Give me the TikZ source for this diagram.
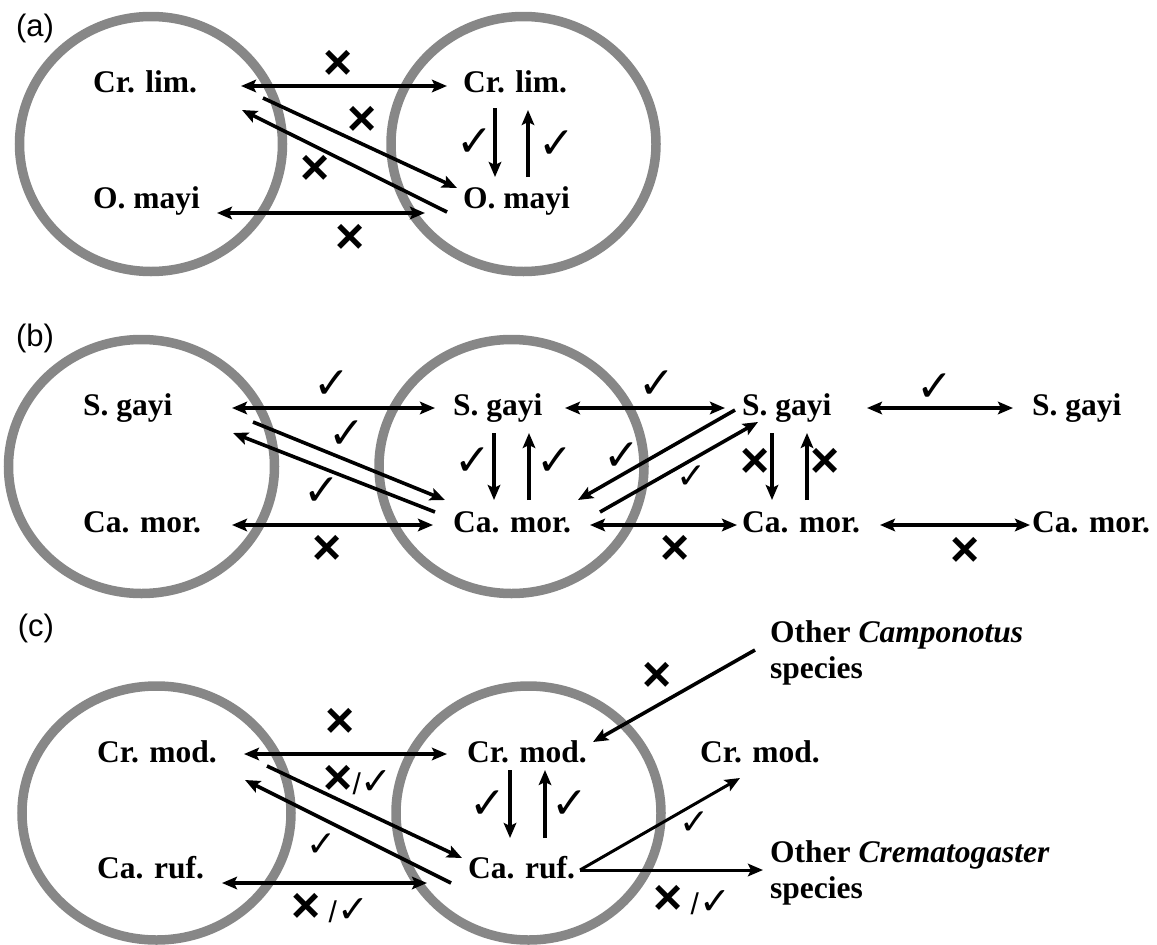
\documentclass[tikz,border=0pt]{standalone}
\usepackage{fontspec}
\setmainfont{Liberation Serif}
\newfontfamily\arialf{Liberation Sans}
\newfontfamily\dvf{DejaVu Sans}
\usetikzlibrary{arrows.meta,calc}
\definecolor{ringgray}{RGB}{135,135,135}
\tikzset{
  lab/.style={font=\bfseries\fontsize{31.5}{36}\selectfont, inner sep=0pt, anchor=base west},
  lab2/.style={font=\bfseries\fontsize{31.5}{36}\selectfont, inner sep=0pt, anchor=north west, align=left},
  pan/.style={font=\arialf\fontsize{31}{31}\selectfont, inner sep=0pt},
  nx/.style={font=\arialf\bfseries\fontsize{50}{50}\selectfont, inner sep=0pt},
  ck/.style={font=\dvf\fontsize{44}{44}\selectfont, inner sep=0pt},
  cks/.style={font=\dvf\fontsize{36}{36}\selectfont, inner sep=0pt},
  mix/.style={font=\arialf\fontsize{30}{30}\selectfont, inner sep=0pt},
  ring/.style={draw=ringgray, line width=9.5pt},
  tip/.tip={Stealth[length=15pt,width=12.5pt,inset=3pt]},
  bi/.style={line width=3.6pt, tip-tip},
  one/.style={line width=3.6pt, -tip},
  thin/.style={line width=3pt, -tip},
}
\newcommand{\xm}{{\arialf\bfseries\fontsize{50}{50}\selectfont ×}}
\newcommand{\cm}{{\dvf\fontsize{38}{38}\selectfont ✓}}
\begin{document}
\begin{tikzpicture}[x=1pt,y=-1pt]
\useasboundingbox (0,0) rectangle (1157,945);
% ---------- circles
\draw[ring] (151,144) ellipse [x radius=131.5pt, y radius=127.5pt];
\draw[ring] (523.5,144) ellipse [x radius=132.5pt, y radius=127.5pt];
\draw[ring] (141.5,466.5) ellipse [x radius=133pt, y radius=127pt];
\draw[ring] (511.5,466.5) ellipse [x radius=132.5pt, y radius=127pt];
\draw[ring] (156.5,813) ellipse [x radius=134.5pt, y radius=127pt];
\draw[ring] (528.5,813) ellipse [x radius=132.5pt, y radius=127pt];
% ---------- panel labels
\node[pan] (pa) at (35,28) {(a)};
\node[pan] (pb) at (35,338) {(b)};
\node[pan] (pc) at (36,628) {(c)};
% ---------- panel (a)
\node[lab] (aCL) at (93,92) {Cr. lim.};
\node[lab] (aCR) at (463,92) {Cr. lim.};
\node[lab] (aOL) at (93,208) {O. mayi};
\node[lab] (aOR) at (463,208) {O. mayi};
\draw[bi] ($(aCL.base west)+(148,-6)$) -- ($(aCR.base west)+(-16,-6)$);
\draw[one] ($(aCL.base west)+(170,6)$) -- ($(aOR.base west)+(-6,-20)$);
\draw[one] ($(aOR.base west)+(-16,4)$) -- ($(aCL.base west)+(149,18)$);
\draw[bi] ($(aOL.base west)+(124,5)$) -- ($(aOR.base west)+(-38,5)$);
\draw[one] ($(aCR.base west)+(32,16)$) -- ($(aOR.base west)+(32,-31)$);
\draw[one] ($(aOR.base west)+(65,-31)$) -- ($(aCR.base west)+(65,18)$);
\node[nx] (ax1) at (338,65) {×};
\node[nx] (ax2) at (362,121) {×};
\node[nx] (ax3) at (315,170) {×};
\node[nx] (ax4) at (350,239) {×};
\node[ck] (ac1) at (475,143) {✓};
\node[ck] (ac2) at (557,145) {✓};
% ---------- panel (b)
\node[lab] (bSL) at (83,415) {S. gayi};
\node[lab] (bCL) at (83,532) {Ca. mor.};
\node[lab] (bSM) at (453,415) {S. gayi};
\node[lab] (bCM) at (453,532) {Ca. mor.};
\node[lab] (bS3) at (742,415) {S. gayi};
\node[lab] (bC3) at (742,532) {Ca. mor.};
\node[lab] (bS4) at (1032,415) {S. gayi};
\node[lab] (bC4) at (1032,532) {Ca. mor.};
\draw[bi] ($(bSL.base west)+(149,-7)$) -- ($(bSM.base west)+(-18,-7)$);
\draw[one] ($(bSL.base west)+(170,7)$) -- ($(bCM.base west)+(-8,-32)$);
\draw[one] ($(bCM.base west)+(-18,-20)$) -- ($(bSL.base west)+(150,18)$);
\draw[bi] ($(bCL.base west)+(149,-7)$) -- ($(bCM.base west)+(-20,-7)$);
\draw[one] ($(bSM.base west)+(41,18)$) -- ($(bCM.base west)+(41,-32)$);
\draw[one] ($(bCM.base west)+(76,-32)$) -- ($(bSM.base west)+(76,18)$);
\draw[bi] ($(bSM.base west)+(112,-7)$) -- ($(bS3.base west)+(-17,-7)$);
\draw[one] ($(bS3.base west)+(-7,-5)$) -- ($(bCM.base west)+(125,-32)$);
\draw[one] ($(bCM.base west)+(147,-20)$) -- ($(bS3.base west)+(16,7)$);
\draw[one] ($(bS3.base west)+(30,18)$) -- ($(bC3.base west)+(30,-32)$);
\draw[one] ($(bC3.base west)+(65,-32)$) -- ($(bS3.base west)+(65,18)$);
\draw[bi] ($(bCM.base west)+(137,-7)$) -- ($(bC3.base west)+(-5,-7)$);
\draw[bi] ($(bS3.base west)+(125,-7)$) -- ($(bS4.base west)+(-19,-7)$);
\draw[bi] ($(bC3.base west)+(138,-7)$) -- ($(bC4.base west)+(-2,-7)$);
\node[ck] (bc1) at (332,385) {✓};
\node[ck] (bc2) at (347,435) {✓};
\node[ck] (bc3) at (322,492) {✓};
\node[nx] (bx1) at (327,550) {×};
\node[ck] (bc4) at (473,462) {✓};
\node[ck] (bc5) at (555,462) {✓};
\node[ck] (bc6) at (657,385) {✓};
\node[ck] (bc7) at (622,457) {✓};
\node[cks] (bc8) at (692,477) {✓};
\node[nx] (bx2) at (755,463) {×};
\node[nx] (bx3) at (825,463) {×};
\node[nx] (bx4) at (675,550) {×};
\node[ck] (bc9) at (935,388) {✓};
\node[nx] (bx5) at (965,552) {×};
% ---------- panel (c)
\node[lab] (cCL) at (97,762) {Cr. mod.};
\node[lab] (cRL) at (97,878) {Ca. ruf.};
\node[lab] (cCM) at (467,762) {Cr. mod.};
\node[lab] (cRM) at (468,878) {Ca. ruf.};
\node[lab] (cCR) at (700,762) {Cr. mod.};
\node[lab2] (cCamp) at (770,620) {Other \textit{Camponotus}\\species};
\node[lab2] (cCrem) at (770,840) {Other \textit{Crematogaster}\\species};
\draw[bi] ($(cCL.base west)+(147,-8)$) -- ($(cCM.base west)+(-20,-8)$);
\draw[one] ($(cCL.base west)+(170,4)$) -- ($(cRM.base west)+(-6,-20)$);
\draw[one] ($(cRM.base west)+(-17,5)$) -- ($(cCL.base west)+(148,18)$);
\draw[bi] ($(cRL.base west)+(125,5)$) -- ($(cRM.base west)+(-41,5)$);
\draw[one] ($(cCM.base west)+(43,8)$) -- ($(cRM.base west)+(42,-40)$);
\draw[one] ($(cRM.base west)+(77,-40)$) -- ($(cCM.base west)+(78,8)$);
\draw[one] ($(cCamp.north west)+(-15,30)$) -- ($(cCM.base west)+(126,-20)$);
\draw[thin] ($(cRM.base west)+(112,-8)$) -- ($(cCR.base west)+(40,16)$);
\draw[thin] ($(cRM.base west)+(112,-8)$) -- ($(cCrem.north west)+(-7,30)$);
\node[nx] (cx1) at (340,723) {×};
\node[mix] (cm1) at (358,780) {\xm/\cm};
\node[cks] (cc1) at (322,845) {✓};
\node[mix] (cm2) at (330,908) {\xm\ /\cm};
\node[ck] (cc2) at (488,805) {✓};
\node[ck] (cc3) at (570,805) {✓};
\node[nx] (cx2) at (657,677) {×};
\node[cks] (cc4) at (695,823) {✓};
\node[mix] (cm3) at (692,900) {\xm\ /\cm};
\end{tikzpicture}
\end{document}
